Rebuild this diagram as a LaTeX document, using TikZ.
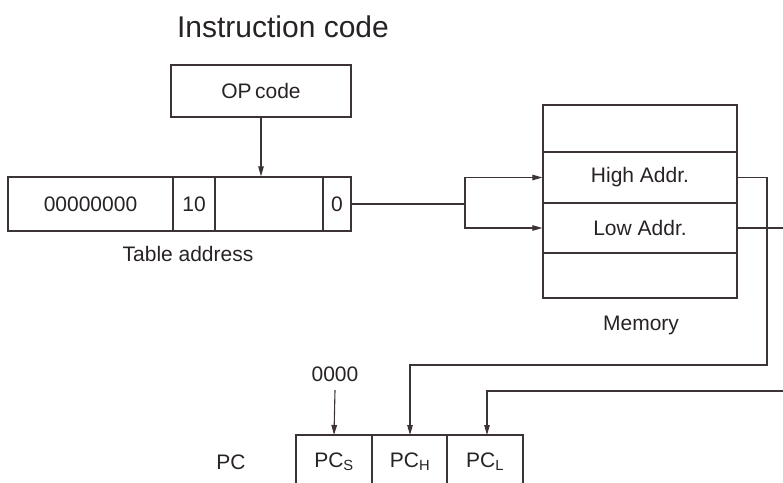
\documentclass[tikz,border=0pt]{standalone}
\usepackage{fontspec}
\setmainfont{Liberation Sans}
\usetikzlibrary{arrows.meta}
\begin{document}
\begin{tikzpicture}[x=1pt,y=-1pt,
  line width=1.3pt, draw={rgb,255:red,60;green,52;blue,52},
  txt/.style={font=\fontsize{21}{25}\selectfont, text={rgb,255:red,40;green,35;blue,35}},
  cell/.style={draw, rectangle, inner sep=0pt, minimum height=#1, txt},
  arr/.style={-{Triangle[length=10pt,width=5.5pt]}},
  wire/.style={line width=1.1pt}]
\useasboundingbox (0,0) rectangle (783,482);
\clip (0,0) rectangle (783,482);
% title
\node[font=\fontsize{30}{35}\selectfont, text={rgb,255:red,40;green,35;blue,35}] (title) at (283,27) {Instruction code};
% OP code
\node[cell=52pt, minimum width=180pt] (op) at (261,91) {OP\,code};
% table address
\node[cell=54pt, minimum width=165pt] (t1) at (90.5,204) {00000000};
\node[cell=54pt, minimum width=42pt] (t2) at (194,204) {10};
\node[cell=54pt, minimum width=108pt] (t3) at (269,204) {};
\node[cell=54pt, minimum width=28pt] (t4) at (337,204) {0};
\node[txt] (tlab) at (188,254) {Table address};
% memory
\node[cell=47pt, minimum width=194pt] (m0) at (640,128.5) {};
\node[cell=51pt, minimum width=194pt] (mhi) at (640,177.5) {High Addr.};
\node[cell=50pt, minimum width=194pt] (mlo) at (640,228) {Low Addr.};
\node[cell=45pt, minimum width=194pt] (m3) at (640,275.5) {};
\node[txt] (mlab) at (641,325) {Memory};
% PC
\node[txt] (pclab) at (231,462) {PC};
\node[txt] (zero) at (335,374) {0000};
\coordinate (pcs) at (334,435);
\coordinate (pch) at (410,435);
\coordinate (pcl) at (487,435);
\draw (296,490) -- (296,435) -- (523,435) -- (523,490);
\draw (372,435) -- (372,490);
\draw (447,435) -- (447,490);
\node[txt] (pcsT) at (334,462) {PC\textsubscript{S}};
\node[txt] (pchT) at (410,462) {PC\textsubscript{H}};
\node[txt] (pclT) at (485,462) {PC\textsubscript{L}};
% connectors
\draw[arr, wire] (op.south) -- (op.south |- t3.north);
\coordinate (split) at (465,204);
\draw[wire] (t4.east) -- (split);
\draw[arr, wire] (split) |- (mhi.west);
\draw[arr, wire] (split) |- (mlo.west);
\coordinate (hr) at (767,0);
\draw[arr, wire] (mhi.east) -- (mhi.east -| hr) -- (767,365) -- (pch |- 0,365) -- (pch);
\draw[arr, wire] (mlo.east) -- (795,228) -- (795,391) -- (pcl |- 0,391) -- (pcl);
\draw[arr, wire] (zero.south |- 0,390) -- (pcs);
\end{tikzpicture}
\end{document}
